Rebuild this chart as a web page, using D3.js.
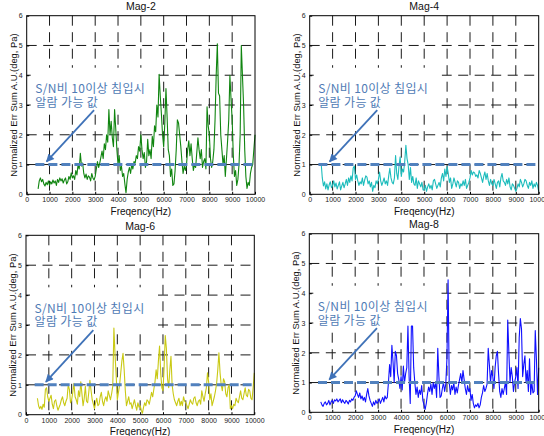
<!DOCTYPE html>
<html><head><meta charset="utf-8">
<script src="https://cdn.jsdelivr.net/npm/d3@7"></script>
<style>body{margin:0;background:#fff} svg{display:block}</style>
</head><body>
<svg id="c" width="544" height="436"></svg>
<script>
// ---------- data ----------
const freqStart = 500, freqStep = 50;   // Hz, sample spacing of the series
const xTicks = [0,1000,2000,3000,4000,5000,6000,7000,8000,9000,10000];
const yTicks = [0,1,2,3,4,5,6];
const titles = ["Mag-2","Mag-4","Mag-6","Mag-8"];
const xLabel = "Freqency(Hz)";
const yLabel = "Normalized Err Sum A.U.(deg, Pa)";
const annotationLines = ["S/N비 10이상 침입시","알람 가능 값"];
const threshold = 1;
const thresholdFrom = 380, thresholdTo = 10000;
const arrowFrom = [2950, 2.83], arrowTo = [870, 1.1];

const mag2 = [
0.18,0.45,0.55,0.42,0.50,0.35,0.28,0.40,0.32,0.45,
0.30,0.42,0.35,0.48,0.38,0.45,0.30,0.50,0.40,0.55,
0.45,0.52,0.38,0.48,0.55,0.35,0.42,0.60,0.50,0.72,
0.55,0.62,0.50,0.80,0.65,1.00,0.85,1.38,0.95,1.05,
0.70,0.55,0.68,0.50,0.62,0.58,0.45,0.70,0.55,0.48,
0.60,0.85,1.10,0.90,1.05,1.25,1.45,1.20,1.70,1.50,
2.00,1.75,2.85,2.00,2.45,1.90,1.60,2.85,2.20,1.50,
1.00,1.30,0.80,0.95,0.60,0.70,0.35,0.05,0.50,0.75,
0.90,0.70,1.00,0.85,1.10,1.05,1.30,1.20,1.60,1.45,
2.00,1.50,1.20,1.40,0.90,1.10,1.85,1.30,1.50,1.20,
1.95,1.60,2.30,2.10,3.00,2.60,4.03,3.30,2.70,2.00,
1.60,2.40,3.55,2.60,1.50,1.30,0.60,0.85,0.30,0.35,
0.80,1.50,2.50,2.40,2.00,1.60,1.10,0.70,0.95,0.80,
1.00,1.50,1.80,1.30,1.70,1.20,0.80,1.00,0.90,1.40,
1.90,1.50,1.20,1.50,0.90,1.10,1.20,0.85,2.94,2.30,
2.00,1.20,0.90,1.10,1.50,2.50,4.00,5.06,3.40,3.30,
2.00,1.50,1.00,1.30,0.60,1.20,1.80,2.50,4.00,3.20,
2.50,1.30,0.60,0.80,0.30,0.50,1.00,2.00,5.00,4.00,
3.00,1.50,0.60,0.20,0.40,0.30,0.70,0.90,1.00,1.50,
2.00];
const mag4 = [
1.05,0.55,0.28,0.42,0.18,0.35,0.15,0.32,0.42,0.22,
0.30,0.45,0.25,0.38,0.18,0.30,0.42,0.15,0.28,0.40,
0.22,0.35,0.50,0.30,0.55,0.40,0.62,0.45,0.88,0.95,
0.50,0.65,0.45,0.30,0.42,0.35,0.55,0.30,0.48,0.62,
0.58,0.35,0.45,0.25,0.40,0.10,0.30,0.22,0.45,0.35,
0.50,0.75,0.45,0.30,0.42,0.55,0.35,0.45,0.30,0.62,
0.87,0.55,0.40,0.35,0.55,1.30,0.70,0.50,0.95,1.26,
0.60,0.85,0.75,1.10,1.65,1.20,1.00,0.50,0.90,0.40,
0.60,0.35,0.30,0.55,0.20,0.45,0.35,0.25,0.40,0.15,
0.15,0.30,0.10,0.25,0.35,0.20,0.30,0.15,0.45,0.50,
0.35,0.20,0.30,0.40,0.25,0.55,0.70,0.45,0.85,0.60,
0.93,0.70,0.40,0.55,0.20,0.35,0.55,0.40,0.25,0.45,
0.40,0.20,0.35,0.28,0.45,0.30,0.50,0.20,0.30,0.40,
0.55,0.80,0.65,0.75,0.72,0.60,0.65,0.55,0.80,0.70,
0.55,0.40,0.60,0.75,0.50,0.70,0.45,0.30,0.50,0.35,
0.30,0.50,0.35,0.20,0.40,0.45,0.25,0.55,0.70,0.45,
0.40,0.30,0.50,0.35,0.55,0.25,0.15,0.35,0.30,0.20,
0.10,0.20,0.35,0.25,0.50,0.40,0.25,0.35,0.50,0.45,
0.30,0.20,0.40,0.30,0.45,0.20,0.35,0.25,0.40,0.30,
0.10];
const mag6 = [
0.55,0.30,0.20,0.28,0.18,0.35,0.25,0.85,0.90,0.60,
0.45,0.55,0.65,0.35,0.20,0.45,0.50,0.30,0.15,0.25,
0.35,0.50,0.60,0.40,0.30,0.45,0.55,1.00,0.85,0.40,
0.50,0.75,1.05,0.60,0.50,0.35,0.80,0.60,1.10,0.70,
0.30,0.55,0.95,0.45,0.40,0.75,1.15,0.80,0.50,0.35,
0.20,0.40,0.55,0.30,0.35,0.60,0.75,0.45,0.30,0.50,
0.60,0.45,0.80,0.65,0.50,0.70,0.95,2.90,2.00,1.30,
0.50,0.75,1.00,1.40,1.80,2.05,1.50,0.80,0.30,0.45,
0.60,0.35,0.40,0.20,0.35,0.50,0.30,0.15,0.40,0.25,
0.30,0.15,0.05,0.25,0.40,0.30,0.50,0.45,0.35,0.55,
0.75,0.60,0.85,1.10,1.50,1.20,1.80,2.30,1.40,0.90,
0.80,1.60,2.65,2.20,1.20,0.90,1.50,1.95,1.00,0.70,
0.50,0.40,0.30,0.45,0.55,0.30,0.45,0.30,0.60,0.45,
0.40,0.30,0.20,0.35,0.50,0.40,0.35,0.55,0.60,0.40,
0.30,0.45,0.50,0.35,0.80,0.60,0.45,0.70,0.90,1.40,
1.10,0.50,0.70,0.30,0.45,0.60,0.80,1.05,1.50,2.07,
1.40,1.00,0.80,1.20,1.10,0.70,0.60,0.90,1.00,0.20,
0.30,0.20,0.35,0.30,0.55,0.45,0.40,0.60,0.80,0.55,
0.50,0.70,0.90,0.65,0.60,0.85,0.80,0.55,0.50,0.90,
1.40];
const mag8 = [
0.35,0.25,0.20,0.30,0.35,0.25,0.30,0.40,0.25,0.35,
0.40,0.30,0.42,0.38,0.45,0.35,0.40,0.45,0.32,0.42,
0.35,0.30,0.40,0.35,0.28,0.40,0.35,0.45,0.40,0.50,
0.55,0.72,0.60,0.50,0.65,0.45,0.55,0.40,0.50,0.35,
0.60,0.80,0.55,0.40,0.30,0.20,0.35,0.25,0.40,0.30,
0.35,0.45,0.30,0.40,0.50,0.35,0.55,0.45,0.50,1.00,
1.60,1.20,2.25,1.70,1.00,2.05,1.90,1.30,1.10,0.80,
1.20,0.75,1.55,1.00,1.30,1.50,2.90,1.20,0.30,2.90,
2.90,1.50,1.00,0.60,0.85,0.50,0.75,0.60,0.90,0.40,
0.25,0.10,0.30,0.60,0.85,0.70,0.95,0.60,1.00,0.80,
1.00,0.50,2.15,1.20,0.50,0.55,0.80,1.00,0.70,0.95,
1.80,4.45,1.00,0.60,0.90,0.75,1.00,0.60,0.85,0.65,
0.90,1.10,1.30,1.00,1.40,1.10,0.80,0.60,0.90,0.70,
0.80,0.40,0.60,0.30,0.15,0.25,0.20,0.30,0.15,0.25,
0.50,0.65,0.90,0.70,0.80,0.95,2.15,1.60,1.00,1.40,
1.20,0.80,1.50,1.90,2.05,1.30,0.70,0.50,0.80,0.60,
0.80,1.00,0.60,3.10,2.00,1.00,1.50,1.20,0.70,1.00,
1.20,1.50,0.80,2.50,3.15,2.80,1.20,1.60,1.90,1.00,
1.40,0.70,1.80,0.60,1.00,0.65,0.70,2.75,1.80,0.60,
1.50];

// ---------- layout / style ----------
const series = [mag2, mag4, mag6, mag8];
const panels = [
  {l:26.7, t:15.7, w:228.3, h:178.6, color:"#108510"},
  {l:309.7, t:15.7, w:229.0, h:178.6, color:"#1cbcbc"},
  {l:26.0, t:235.3, w:228.3, h:179.4, color:"#c9c914"},
  {l:309.3, t:233.7, w:229.4, h:178.6, color:"#1010ff"}
];
const labelFont = "'Liberation Sans', Arial, sans-serif";
const korFont = "'Noto Sans CJK KR', sans-serif";
const annColor = "#4f7bb5";

const svg = d3.select("#c");
svg.append("defs").append("marker")
  .attr("id","ah").attr("markerUnits","userSpaceOnUse")
  .attr("viewBox","0 0 10 10").attr("refX",9).attr("refY",5)
  .attr("markerWidth",9).attr("markerHeight",8).attr("orient","auto")
  .append("path").attr("d","M0,0 L10,5 L0,10 Z").attr("fill","#3f72b8");

panels.forEach((p, k) => {
  const data = series[k].map((v, i) => ({f: freqStart + i*freqStep, v}));
  const x = d3.scaleLinear().domain([0,10000]).range([0, p.w]);
  const y = d3.scaleLinear().domain([0,6]).range([p.h, 0]);
  const g = svg.append("g").attr("transform",`translate(${p.l},${p.t})`);

  // grid
  const grid = g.append("g").attr("stroke","#1a1a1a").attr("stroke-width",1)
    .attr("stroke-dasharray","10,6.5");
  grid.selectAll("line.v").data(xTicks.slice(1,-1)).join("line")
    .attr("x1",d=>x(d)).attr("x2",d=>x(d)).attr("y1",0).attr("y2",p.h);
  grid.selectAll("line.h").data(yTicks.slice(1,-1)).join("line").attr("class","h")
    .attr("x1",0).attr("x2",p.w).attr("y1",d=>y(d)).attr("y2",d=>y(d));

  // white box behind annotation
  g.append("rect").attr("x",4).attr("y",52).attr("width",128).attr("height",43).attr("fill","#fff");

  // axes
  const xa = g.append("g").attr("transform",`translate(0,${p.h})`)
    .call(d3.axisBottom(x).tickValues(xTicks).tickSize(-2.5).tickPadding(4).tickFormat(d3.format("d")));
  const ya = g.append("g")
    .call(d3.axisLeft(y).tickValues(yTicks).tickSize(-2.5).tickPadding(4).tickFormat(d3.format("d")));
  [xa, ya].forEach(a => {
    a.select(".domain").remove();
    a.selectAll("text").attr("font-family",labelFont).attr("font-size",7).attr("fill","#222");
    a.selectAll("line").attr("stroke","#000");
  });
  xa.selectAll("text").attr("dy","0.55em");

  // series line
  g.append("path").datum(data)
    .attr("d", d3.line().x(d=>x(d.f)).y(d=>y(d.v)))
    .attr("fill","none").attr("stroke",p.color).attr("stroke-width",1.1).attr("stroke-linejoin","round");

  // threshold line
  g.append("line")
    .attr("x1",x(thresholdFrom)).attr("x2",x(thresholdTo))
    .attr("y1",y(threshold)).attr("y2",y(threshold))
    .attr("stroke","#5181be").attr("stroke-width",3).attr("stroke-dasharray","9,4");

  // annotation text
  const tx = g.append("text").attr("font-family",korFont).attr("font-size",12)
    .attr("letter-spacing",0.35).attr("fill",annColor);
  annotationLines.forEach((s, i) => tx.append("tspan").attr("x",8.5).attr("y",77.5 + i*13.5).text(s));

  // arrow
  g.append("line")
    .attr("x1",x(arrowFrom[0])).attr("y1",y(arrowFrom[1]))
    .attr("x2",x(arrowTo[0])).attr("y2",y(arrowTo[1]))
    .attr("stroke","#3f72b8").attr("stroke-width",1.8).attr("marker-end","url(#ah)");

  // frame
  g.append("rect").attr("width",p.w).attr("height",p.h).attr("fill","none").attr("stroke","#000").attr("stroke-width",1);

  // labels
  g.append("text").attr("x",p.w/2).attr("y",-5.7).attr("text-anchor","middle")
    .attr("font-family",labelFont).attr("font-size",10.5).attr("fill","#111").text(titles[k]);
  g.append("text").attr("x",p.w/2).attr("y",p.h+20.5).attr("text-anchor","middle")
    .attr("font-family",labelFont).attr("font-size",10).attr("fill","#111").text(xLabel);
  g.append("text").attr("transform",`translate(-10.2,${p.h/2}) rotate(-90)`).attr("text-anchor","middle")
    .attr("font-family",labelFont).attr("font-size",9.4).attr("fill","#111").text(yLabel);
});
</script>
</body></html>
